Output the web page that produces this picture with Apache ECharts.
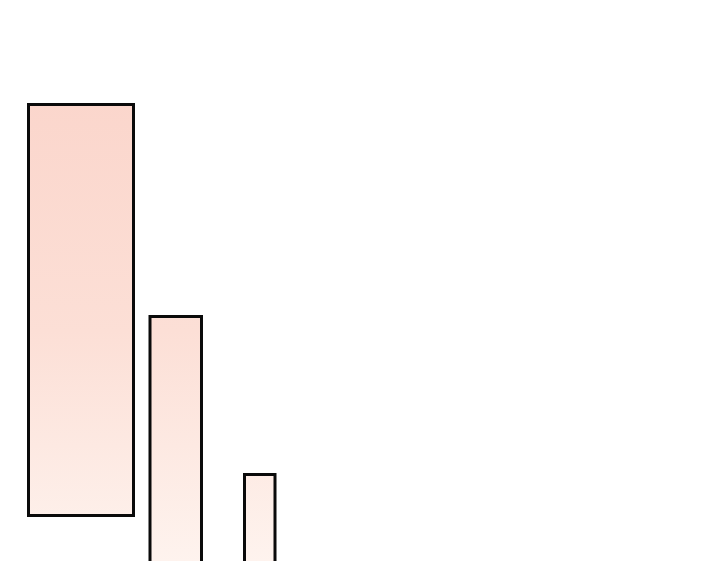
<!DOCTYPE html>
<html>
<head>
<meta charset="utf-8">
<script src="https://cdn.jsdelivr.net/npm/echarts@6/dist/echarts.min.js"></script>
<style>
    html, body { margin: 0; padding: 0; background: #fff; }
    #myChart { width: 720px; height: 561px; }
</style>
</head>
<body>
<div id="myChart"></div>
<script>
// panel edges (x to the right, y downward)
var panelLeft = [28.5, 150, 244.5];
var panelRight = [133.5, 201.5, 275];
var panelTop = [104.5, 316.5, 474.5];
var panelBottom = [515.5, 580, 580];

/**
 * 画一个面板
 */
var renderPanel = function (params, api) {
    var p0 = api.coord([api.value(0), api.value(2)]),
        p1 = api.coord([api.value(1), api.value(3)]),
        gTop = api.coord([0, 100])[1],
        gBottom = api.coord([0, 561])[1];
    return {
        type: 'rect',
        shape: {
            x: p0[0],
            y: p0[1],
            width: p1[0] - p0[0],
            height: p1[1] - p0[1]
        },
        style: {
            // 全局渐变: 越往下越浅
            fill: new echarts.graphic.LinearGradient(0, gTop, 0, gBottom, [
                {offset: 0, color: '#fbd6cc'},
                {offset: 0.5, color: '#fcdfd6'},
                {offset: 1, color: '#fef3ee'}
            ], true),
            stroke: '#0a0a0a',
            lineWidth: 3
        }
    };
};

var data = panelLeft.map(function (x, i) {
    return [x, panelRight[i], panelTop[i], panelBottom[i]];
});

var myChart = echarts.init(document.getElementById('myChart')),
    option = {
        backgroundColor: '#fff',
        animation: false,
        grid: {
            left: 0,
            right: 0,
            top: 0,
            bottom: 0
        },
        xAxis: {
            type: 'value',
            min: 0,
            max: 720,
            show: false
        },
        yAxis: {
            type: 'value',
            min: 0,
            max: 561,
            inverse: true,
            show: false
        },
        series: [
            {
                type: 'custom',
                renderItem: renderPanel,
                clip: true,
                data: data
            }
        ]
    };
myChart.setOption(option);
</script>
</body>
</html>
